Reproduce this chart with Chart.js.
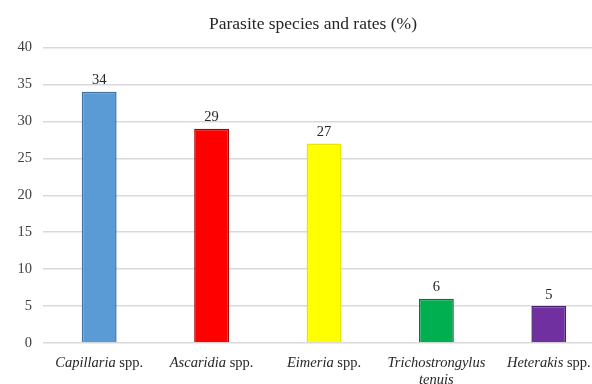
<!DOCTYPE html>
<html>
<head>
<meta charset="utf-8">
<script src="https://cdn.jsdelivr.net/npm/chart.js@4.4.0/dist/chart.umd.min.js"></script>
<style>
    html, body { margin: 0; padding: 0; background: #fff; overflow: hidden; }
    #wrap { width: 592px; height: 384px; overflow: hidden; position: relative; }
    #wrap canvas { position: absolute; left: 0; top: 0; }
</style>
</head>
<body>
<div id="wrap"><canvas id="parasiteChart" width="626" height="384"></canvas></div>
<script>
// 데이터
const titleText = 'Parasite species and rates (%)';
const species = ['Capillaria spp.', 'Ascaridia spp.', 'Eimeria spp.', ['Trichostrongylus', 'tenuis'], 'Heterakis spp.'];
const rates = [34, 29, 27, 6, 5];
const barColors = ['#5b9bd5', '#ff0000', '#ffff00', '#00b050', '#7030a0'];
const barBorders = ['#41719c', '#a50000', '#e6e600', '#00783a', '#4a1f6e'];
const yMin = 0, yMax = 40, yStep = 5;

const FONT = "'Liberation Serif', 'Times New Roman', serif";
const TEXT_SIZE = 14.5;

// 제목 (원본은 캔버스 중앙보다 약간 오른쪽)
const titlePlugin = {
    id: 'titlePlugin',
    afterDraw(chart) {
        const ctx = chart.ctx;
        ctx.save();
        ctx.font = `17.5px ${FONT}`;
        ctx.fillStyle = '#262626';
        ctx.textAlign = 'center';
        ctx.textBaseline = 'middle';
        ctx.fillText(titleText, 313, 24);
        ctx.restore();
    }
};

// 막대 위 값 표시
const valueLabels = {
    id: 'valueLabels',
    afterDatasetsDraw(chart) {
        const ctx = chart.ctx;
        const meta = chart.getDatasetMeta(0);
        ctx.save();
        ctx.font = `${TEXT_SIZE}px ${FONT}`;
        ctx.fillStyle = '#262626';
        ctx.textAlign = 'center';
        ctx.textBaseline = 'bottom';
        meta.data.forEach((bar, i) => {
            ctx.fillText(String(rates[i]), bar.x, bar.y - 4);
        });
        ctx.restore();
    }
};

// x축 라벨: 속명은 이탤릭, spp.는 정자체
const mixedLabels = {
    id: 'mixedLabels',
    afterDraw(chart) {
        const ctx = chart.ctx;
        const xScale = chart.scales.x;
        ctx.save();
        ctx.fillStyle = '#262626';
        ctx.textBaseline = 'middle';
        ctx.textAlign = 'left';
        species.forEach((label, i) => {
            const lines = Array.isArray(label) ? label : [label];
            const cx = xScale.getPixelForTick(i);
            lines.forEach((line, li) => {
                const parts = line.split(' ').map((w, wi, arr) => ({
                    text: w + (wi < arr.length - 1 ? ' ' : ''),
                    italic: w !== 'spp.'
                }));
                let total = 0;
                parts.forEach(p => {
                    ctx.font = `${p.italic ? 'italic ' : ''}${TEXT_SIZE}px ${FONT}`;
                    p.w = ctx.measureText(p.text).width;
                    total += p.w;
                });
                let x = cx - total / 2;
                const y = xScale.top + 20 + li * 17;
                parts.forEach(p => {
                    ctx.font = `${p.italic ? 'italic ' : ''}${TEXT_SIZE}px ${FONT}`;
                    ctx.fillText(p.text, x, y);
                    x += p.w;
                });
            });
        });
        ctx.restore();
    }
};

new Chart(document.getElementById('parasiteChart').getContext('2d'), {
    type: 'bar',
    data: {
        labels: species,
        datasets: [{
            data: rates,
            backgroundColor: barColors,
            borderColor: barBorders,
            borderWidth: 1.5,
            barPercentage: 0.31,
            categoryPercentage: 1.0,
        }]
    },
    options: {
        responsive: false,
        animation: false,
        layout: { padding: { left: 0, right: 21, top: 47.5, bottom: 0 } },
        plugins: {
            legend: { display: false },
            tooltip: { enabled: false },
            title: { display: false },
        },
        scales: {
            x: {
                grid: { display: false, drawTicks: false },
                border: { display: false },
                ticks: { display: false },
                afterFit(scale) { scale.height = 41; },
            },
            y: {
                min: yMin,
                max: yMax,
                ticks: {
                    stepSize: yStep,
                    padding: 11,
                    color: '#404040',
                    font: { family: FONT, size: TEXT_SIZE },
                },
                grid: { color: '#d9d9d9', lineWidth: 1.5, drawTicks: false },
                border: { display: false },
                afterFit(scale) { scale.width = 43; },
            },
        },
    },
    plugins: [titlePlugin, valueLabels, mixedLabels],
});
</script>
</body>
</html>
